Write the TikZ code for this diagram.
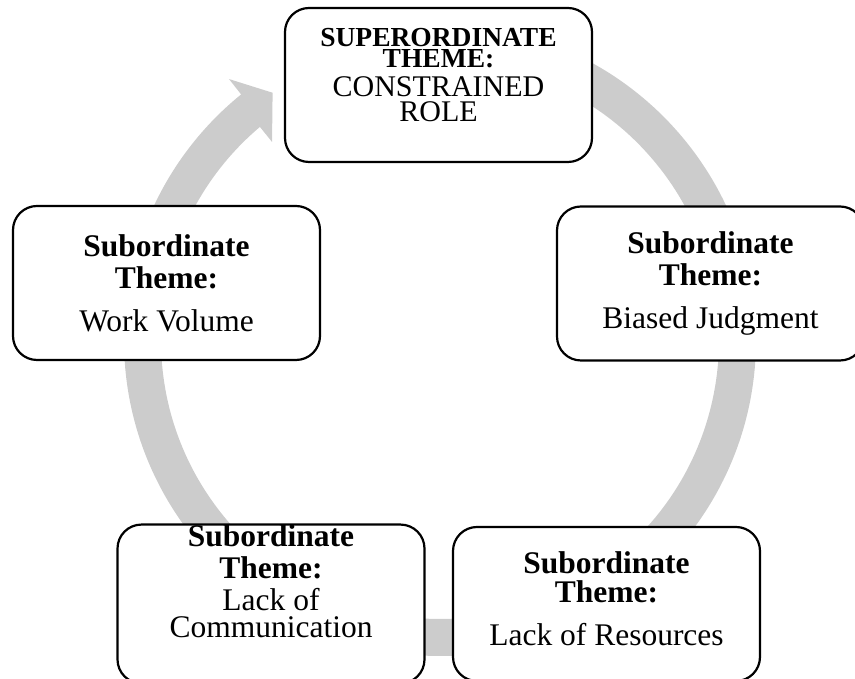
\documentclass[tikz,border=0pt]{standalone}
\usepackage{fontspec}
\setmainfont{Liberation Serif}
\definecolor{ringgray}{RGB}{204,204,204}
\begin{document}
\begin{tikzpicture}[x=1pt,y=1pt,
  box/.style={draw=black, line width=2.2pt, fill=white, rounded corners=24pt,
    minimum width=307pt, minimum height=154pt, inner sep=0pt, align=center, text=black},
  subtext/.style={font=\fontsize{31.5}{32}\selectfont},
  suptext/.style={font=\fontsize{30}{25}\selectfont},
]
\useasboundingbox (0,0) rectangle (855,679);
\clip (0,0) rectangle (855,679);

% cycle arrow ring
\begin{scope}[shift={(440,339)}]
\fill[ringgray] (90:316) arc[start angle=90, end angle=-231, radius=316]
  -- (128.96:335.6) -- (124.1:298.6) -- (130.3:259.7)
  -- (-229.8:279) arc[start angle=-229.8, end angle=90, radius=279] -- cycle;
\end{scope}

% theme boxes
\node[box, suptext] (top) at (438.5,594)
  {{\fontsize{27.5}{25}\selectfont\bfseries SUPERORDINATE}\\[-3.5pt]%
   {\fontsize{27.5}{25}\selectfont\bfseries THEME:}\\[4pt]%
   CONSTRAINED\\ROLE\rule[-20pt]{0pt}{0pt}};
\node[box, subtext] (work) at (166.5,396)
  {\textbf{Subordinate}\\\textbf{Theme:}\\[11pt]Work Volume};
\node[box, subtext] (bias) at (710.5,395.5)
  {\textbf{Subordinate}\\\textbf{Theme:}\\[11pt]Biased Judgment};
\node[box, subtext] (comm) at (271,75)
  {\textbf{Subordinate}\\\textbf{Theme:}\\Lack of\\[-5pt]Communication\rule[-46pt]{0pt}{0pt}};
\node[box, subtext] (res) at (606.5,75)
  {\textbf{Subordinate}\\[-3pt]\textbf{Theme:}\\[11pt]Lack of Resources\rule[-11.5pt]{0pt}{0pt}};
\end{tikzpicture}
\end{document}
